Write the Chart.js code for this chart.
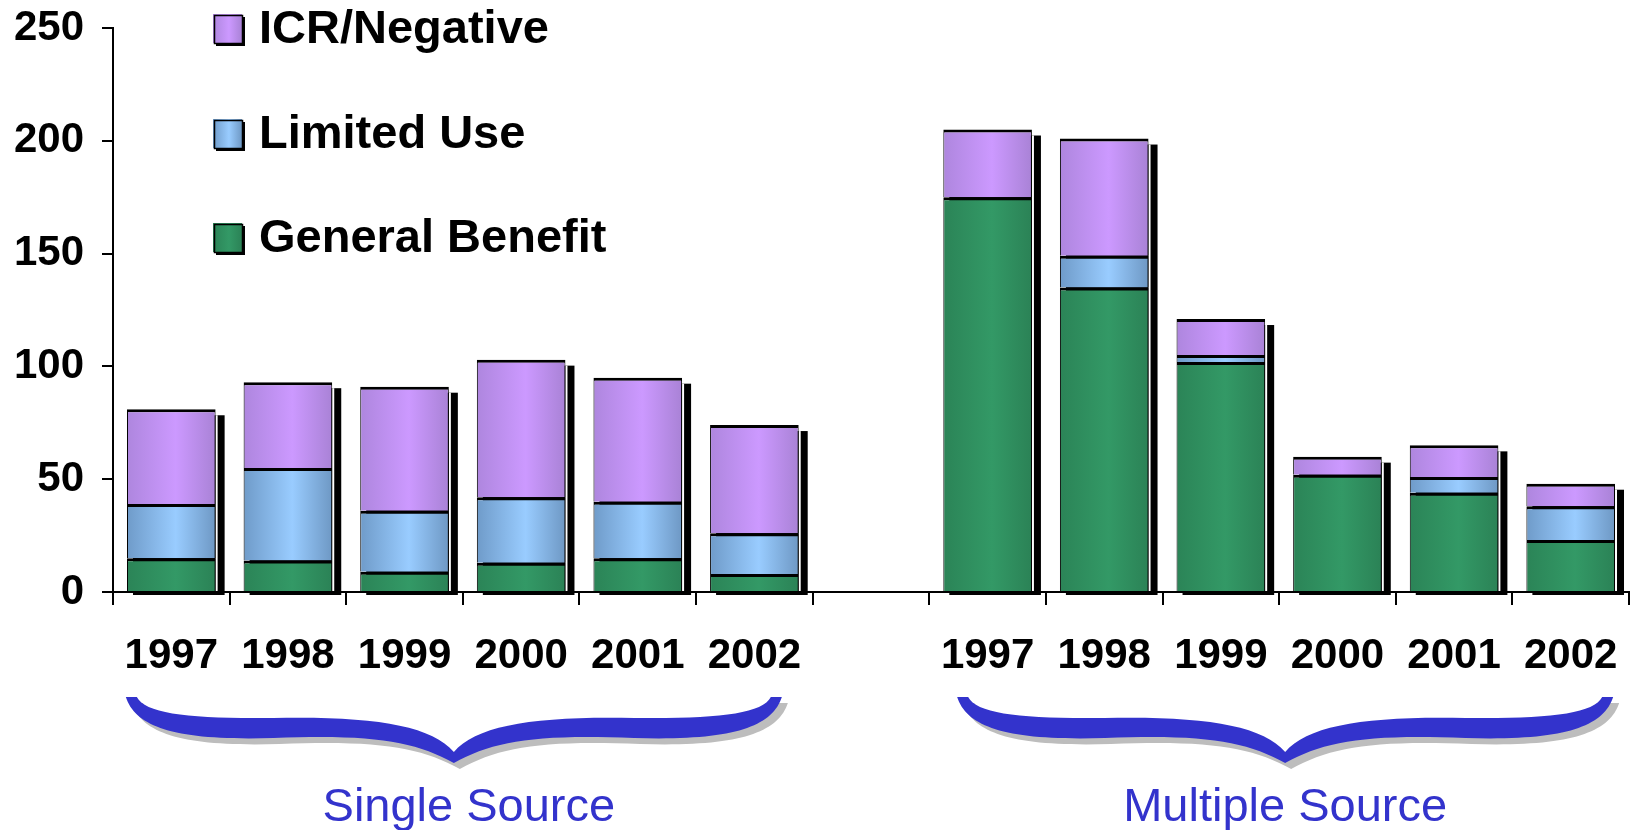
<!DOCTYPE html>
<html>
<head>
<meta charset="utf-8">
<title>Single vs Multiple Source</title>
<script src="https://cdn.jsdelivr.net/npm/chart.js@4.4.1/dist/chart.umd.min.js"></script>
<style>
  html, body { margin: 0; padding: 0; background: #fff; }
  #wrap { width: 1637px; height: 830px; position: relative; }
</style>
</head>
<body>
<div id="wrap"><canvas id="sourceChart"></canvas></div>
<script>
// Two groups of years, with an empty slot between them
const years = ['1997', '1998', '1999', '2000', '2001', '2002', '',
               '1997', '1998', '1999', '2000', '2001', '2002'];

const generalBenefit = [15, 14, 9, 13, 15, 8, null, 175, 135, 102, 52, 44, 23];
const limitedUse     = [24, 41, 27, 29, 25, 18, null, 0, 14, 3, 0, 7, 15];
const icrNegative    = [42, 38, 55, 61, 55, 48, null, 30, 52, 16, 8, 14, 10];

const yTicks = [0, 50, 100, 150, 200, 250];

const groupLabels = ['Single Source', 'Multiple Source'];
const groupFirst = [0, 7];
const groupLast = [5, 12];

const FONT = "'Liberation Sans', Arial, sans-serif";
const BRACE_BLUE = '#3333CC';
const BAR_PCT = 0.76;

// edge / highlight / edge colours for the shaded bars
const shades = {
  icr:     ['#AE86DE', '#CC99FF', '#A982D6'],
  limited: ['#6F9BC9', '#99CCFF', '#6E98C4'],
  general: ['#2B8457', '#339966', '#2B8256']
};

function shadedFill(stops) {
  return (context) => {
    const chart = context.chart;
    const area = chart.chartArea;
    if (!area || !chart.scales.x) return stops[1];
    const cx = chart.scales.x.getPixelForValue(context.dataIndex);
    const w = (area.width / years.length) * BAR_PCT;
    const g = chart.ctx.createLinearGradient(cx - w / 2, 0, cx + w / 2, 0);
    g.addColorStop(0, stops[0]);
    g.addColorStop(0.55, stops[1]);
    g.addColorStop(1, stops[2]);
    return g;
  };
}

// black drop shadow behind each stacked column
const barShadow = {
  id: 'barShadow',
  beforeDatasetsDraw(chart) {
    const ctx = chart.ctx;
    const base = chart.scales.y.getPixelForValue(0);
    ctx.save();
    for (let i = 0; i < years.length; i++) {
      let top = null, left = 0, width = 0;
      chart.data.datasets.forEach((ds, d) => {
        const el = chart.getDatasetMeta(d).data[i];
        if (!el || !ds.data[i]) return;
        if (top === null || el.y < top) top = el.y;
        width = el.width;
        left = el.x - el.width / 2;
      });
      if (top === null) continue;
      ctx.fillStyle = '#000';
      ctx.fillRect(left + 6, top + 6, width + 3, base - top - 3);
      ctx.fillStyle = '#fff';
      ctx.fillRect(left + width, top + 6, 2, base - top - 7);
    }
    ctx.restore();
  }
};

// legend block in the upper left of the plot
const legendBlock = {
  id: 'legendBlock',
  afterDraw(chart) {
    const ctx = chart.ctx;
    const rows = [
      ['ICR/Negative', shades.icr, 29],
      ['Limited Use', shades.limited, 134],
      ['General Benefit', shades.general, 238]
    ];
    ctx.save();
    rows.forEach(([text, stops, cy]) => {
      const x = 213, y = cy - 15, s = 29;
      ctx.fillStyle = '#000';
      ctx.fillRect(x + 3, y + 3, s, s);
      const g = ctx.createLinearGradient(x, 0, x + s, 0);
      g.addColorStop(0, stops[0]);
      g.addColorStop(0.55, stops[1]);
      g.addColorStop(1, stops[2]);
      ctx.fillStyle = g;
      ctx.fillRect(x, y, s, s);
      ctx.strokeStyle = '#000';
      ctx.lineWidth = 1.5;
      ctx.strokeRect(x + 1.5, y + 1.5, s - 1, s - 1);
      ctx.fillStyle = '#000';
      ctx.font = 'bold 47px ' + FONT;
      ctx.textBaseline = 'middle';
      ctx.textAlign = 'left';
      ctx.fillText(text, 259, cy + 1);
    });
    ctx.restore();
  }
};

function bracePath(ctx, xc, hw, yTop) {
  const x0 = xc - hw, x1 = xc + hw, w = hw;
  ctx.beginPath();
  ctx.moveTo(x0, yTop);
  ctx.bezierCurveTo(x0 + 0.03 * w, yTop + 30, x0 + 0.15 * w, yTop + 44, x0 + 0.45 * w, yTop + 41);
  ctx.bezierCurveTo(x0 + 0.75 * w, yTop + 37, xc - 0.12 * w, yTop + 44, xc, yTop + 66);
  ctx.bezierCurveTo(xc + 0.12 * w, yTop + 44, xc + 0.25 * w, yTop + 37, xc + 0.55 * w, yTop + 41);
  ctx.bezierCurveTo(xc + 0.85 * w, yTop + 44, x1 - 0.03 * w, yTop + 30, x1, yTop);
  ctx.lineTo(x1 - 11, yTop);
  ctx.bezierCurveTo(x1 - 0.06 * w, yTop + 17, xc + 0.8 * w, yTop + 22, xc + 0.55 * w, yTop + 21);
  ctx.bezierCurveTo(xc + 0.25 * w, yTop + 19, xc + 0.07 * w, yTop + 28, xc, yTop + 55);
  ctx.bezierCurveTo(xc - 0.07 * w, yTop + 28, xc - 0.25 * w, yTop + 19, x0 + 0.45 * w, yTop + 21);
  ctx.bezierCurveTo(x0 + 0.2 * w, yTop + 22, x0 + 0.06 * w, yTop + 17, x0 + 11, yTop);
  ctx.closePath();
}

// curly braces and group captions under the year labels
const groupBraces = {
  id: 'groupBraces',
  afterDraw(chart) {
    const ctx = chart.ctx;
    const xs = chart.scales.x;
    const shift = [-9, 6];
    ctx.save();
    groupLabels.forEach((label, g) => {
      const mid = (xs.getPixelForValue(groupFirst[g]) + xs.getPixelForValue(groupLast[g])) / 2;
      const xc = mid + shift[g];
      ctx.fillStyle = '#BDBDBD';
      ctx.save();
      ctx.translate(6, 6);
      bracePath(ctx, xc, 328, 697);
      ctx.fill();
      ctx.restore();
      ctx.fillStyle = BRACE_BLUE;
      bracePath(ctx, xc, 328, 697);
      ctx.fill();
      ctx.font = '47px ' + FONT;
      ctx.textAlign = 'center';
      ctx.textBaseline = 'alphabetic';
      ctx.fillText(label, mid + 6, 821);
    });
    ctx.restore();
  }
};

const segment = {
  borderColor: '#000',
  borderWidth: { top: 3, left: 1, right: 1, bottom: 0 },
  barPercentage: BAR_PCT,
  categoryPercentage: 1.0
};

new Chart(document.getElementById('sourceChart'), {
  type: 'bar',
  data: {
    labels: years,
    datasets: [
      Object.assign({ label: 'General Benefit', data: generalBenefit,
        backgroundColor: shadedFill(shades.general) }, segment),
      Object.assign({ label: 'Limited Use', data: limitedUse,
        backgroundColor: shadedFill(shades.limited) }, segment),
      Object.assign({ label: 'ICR/Negative', data: icrNegative,
        backgroundColor: shadedFill(shades.icr) }, segment)
    ]
  },
  options: {
    responsive: true,
    maintainAspectRatio: false,
    animation: false,
    layout: { padding: { top: 28, right: 8, bottom: 148, left: 0 } },
    plugins: {
      legend: { display: false },
      tooltip: { enabled: false }
    },
    scales: {
      x: {
        stacked: true,
        border: { color: '#000', width: 2 },
        grid: { drawOnChartArea: false, color: '#000', lineWidth: 2, tickLength: 13 },
        ticks: {
          color: '#000',
          padding: 26,
          maxRotation: 0,
          autoSkip: false,
          font: { family: FONT, size: 42, weight: 'bold' }
        },
        afterFit(scale) {
          scale.height = 90;
          scale.paddingLeft = 0;
          scale.paddingRight = 0;
        }
      },
      y: {
        stacked: true,
        min: 0,
        max: 250,
        afterBuildTicks(scale) { scale.ticks = yTicks.map(v => ({ value: v })); },
        border: { color: '#000', width: 2 },
        grid: { drawOnChartArea: false, color: '#000', lineWidth: 2, tickLength: 11 },
        ticks: {
          color: '#000',
          padding: 18,
          font: { family: FONT, size: 42, weight: 'bold' }
        },
        afterFit(scale) {
          scale.width = 113;
          scale.paddingTop = 0;
          scale.paddingBottom = 0;
        }
      }
    }
  },
  plugins: [barShadow, legendBlock, groupBraces]
});
</script>
</body>
</html>
